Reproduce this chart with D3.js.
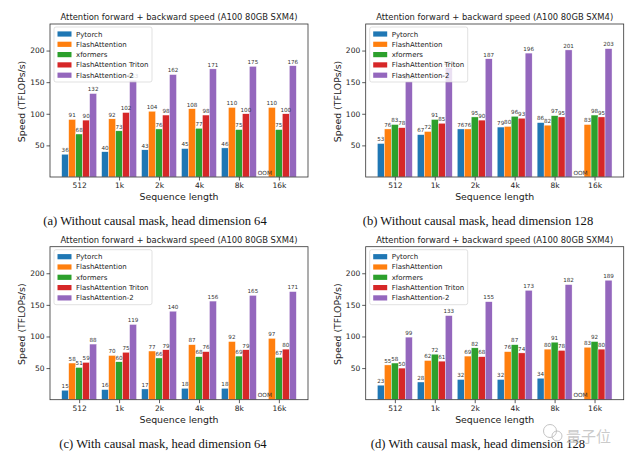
<!DOCTYPE html>
<html><head><meta charset="utf-8">
<script src="https://cdn.jsdelivr.net/npm/d3@7"></script>
<style>
html,body{margin:0;padding:0;background:#fff;}
svg{display:block;}
</style></head>
<body>
<script>
// ---------- data ----------
const seqLabels = ['512', '1k', '2k', '4k', '8k', '16k'];
const methods = ['Pytorch', 'FlashAttention', 'xformers', 'FlashAttention Triton', 'FlashAttention-2'];
const colors = ['#1f77b4', '#ff7f0e', '#2ca02c', '#d62728', '#9467bd'];
const yTicks = [50, 100, 150, 200];
const chartTitle = 'Attention forward + backward speed (A100 80GB SXM4)';
const xAxisLabel = 'Sequence length';
const yAxisLabel = 'Speed (TFLOPs/s)';

// (a) without causal mask, head dim 64
const pytorchA  = [36, 40, 43, 45, 46, null];
const flashA    = [91, 92, 104, 108, 110, 110];
const xformersA = [68, 73, 76, 77, 75, 75];
const tritonA   = [90, 102, 98, 98, 100, 100];
const fa2A      = [132, 153, 162, 171, 175, 176];
// (b) without causal mask, head dim 128
const pytorchB  = [53, 67, 76, 79, 86, null];
const flashB    = [76, 72, 76, 80, 82, 83];
const xformersB = [83, 91, 95, 96, 97, 98];
const tritonB   = [78, 85, 90, 93, 95, 95];
const fa2B      = [151, 173, 187, 196, 201, 203];
// (c) with causal mask, head dim 64
const pytorchC  = [15, 16, 17, 18, 18, null];
const flashC    = [58, 70, 77, 87, 92, 97];
const xformersC = [51, 60, 66, 68, 69, 67];
const tritonC   = [59, 75, 79, 76, 79, 80];
const fa2C      = [88, 119, 140, 156, 165, 171];
// (d) with causal mask, head dim 128
const pytorchD  = [23, 28, 32, 32, 34, null];
const flashD    = [55, 62, 69, 76, 80, 83];
const xformersD = [58, 72, 82, 87, 91, 92];
const tritonD   = [50, 61, 68, 74, 78, 80];
const fa2D      = [99, 133, 155, 173, 182, 189];

const captions = [
  '(a) Without causal mask, head dimension 64',
  '(b) Without causal mask, head dimension 128',
  '(c) With causal mask, head dimension 64',
  '(d) With causal mask, head dimension 128'
];
const panelsData = [
  [pytorchA, flashA, xformersA, tritonA, fa2A],
  [pytorchB, flashB, xformersB, tritonB, fa2B],
  [pytorchC, flashC, xformersC, tritonC, fa2C],
  [pytorchD, flashD, xformersD, tritonD, fa2D]
];
const oomLabel = 'OOM';
const watermark = '量子位';

// ---------- layout ----------
const W = 634, H = 453;
const svg = d3.select('body').append('svg').attr('width', W).attr('height', H);
const SANS = 'DejaVu Sans';
const SERIF = 'Liberation Serif';

const panelPos = [
  {ax: 50,    ay: 24,    capX: 155},
  {ax: 365.7, ay: 24,    capX: 478},
  {ax: 50,    ay: 246.7, capX: 163},
  {ax: 365.7, ay: 246.7, capX: 478}
];
const AW = 258, AH = 153;
const barW = 0.175;

panelsData.forEach((series, pi) => {
  const p = panelPos[pi];
  const g = svg.append('g').attr('transform', `translate(${p.ax},${p.ay})`);
  const x = d3.scaleLinear().domain([-0.73, 5.73]).range([0, AW]);
  const y = d3.scaleLinear().domain([0, 242]).range([AH, 0]);

  const barLayer = g.append('g');
  const labelLayer = g.append('g');

  series.forEach((vals, si) => {
    const off = (si - 2) * barW;
    vals.forEach((v, ci) => {
      const cx = ci + off;
      if (v == null) {
        labelLayer.append('text').attr('x', x(cx)).attr('y', y(0) - 2.5)
          .attr('text-anchor', 'middle').attr('font-family', SANS).attr('font-size', 5.8)
          .attr('fill', '#333').text(oomLabel);
        return;
      }
      barLayer.append('rect')
        .attr('x', x(cx - barW / 2)).attr('width', x(barW) - x(0))
        .attr('y', y(v)).attr('height', y(0) - y(v))
        .attr('fill', colors[si]).attr('stroke', '#fff').attr('stroke-width', 0.4);
      labelLayer.append('text').attr('x', x(cx)).attr('y', y(v) - 2.2)
        .attr('text-anchor', 'middle').attr('font-family', SANS).attr('font-size', 5.6)
        .attr('fill', '#333').text(v);
    });
  });

  // axes
  const yAxis = d3.axisLeft(y).tickValues(yTicks).tickSize(3.5).tickPadding(2);
  const gy = g.append('g').call(yAxis);
  const xAxis = d3.axisBottom(x).tickValues(d3.range(seqLabels.length))
    .tickFormat(i => seqLabels[i]).tickSize(3.5).tickPadding(2);
  const gx = g.append('g').attr('transform', `translate(0,${AH})`).call(xAxis);
  [gx, gy].forEach(a => {
    a.select('.domain').remove();
    a.selectAll('line').attr('stroke', '#333').attr('stroke-width', 0.8);
    a.selectAll('text').attr('font-family', SANS).attr('font-size', 7.5).attr('fill', '#222');
  });
  // frame
  g.append('rect').attr('x', 0).attr('y', 0).attr('width', AW).attr('height', AH)
    .attr('fill', 'none').attr('stroke', '#333').attr('stroke-width', 0.8);

  // title
  g.append('text').attr('x', AW / 2).attr('y', -4).attr('text-anchor', 'middle')
    .attr('font-family', SANS).attr('font-size', 8.4).attr('fill', '#222').text(chartTitle);
  // x label
  g.append('text').attr('x', AW / 2).attr('y', AH + 23).attr('text-anchor', 'middle')
    .attr('font-family', SANS).attr('font-size', 9.4).attr('fill', '#222').text(xAxisLabel);
  // y label
  g.append('text').attr('transform', `translate(-25,${AH / 2 + 1}) rotate(-90)`)
    .attr('text-anchor', 'middle').attr('font-family', SANS).attr('font-size', 9.4)
    .attr('fill', '#222').text(yAxisLabel);

  // legend
  const lg = g.append('g').attr('transform', 'translate(4,3)');
  lg.append('rect').attr('x', 0).attr('y', 0).attr('width', 98).attr('height', 55)
    .attr('rx', 2).attr('fill', '#fff').attr('fill-opacity', 0.8)
    .attr('stroke', '#ccc').attr('stroke-width', 0.6);
  methods.forEach((m, i) => {
    const yy = 7 + i * 10.3;
    lg.append('rect').attr('x', 3.5).attr('y', yy - 2.6).attr('width', 14).attr('height', 5.2)
      .attr('fill', colors[i]);
    lg.append('text').attr('x', 22).attr('y', yy + 2.5).attr('font-family', SANS)
      .attr('font-size', 7).attr('fill', '#222').text(m);
  });

  // caption
  svg.append('text').attr('x', p.capX).attr('y', p.ay + 201).attr('text-anchor', 'middle')
    .attr('font-family', SERIF).attr('font-size', 12.6).attr('fill', '#111').text(captions[pi]);
});

// watermark
const wm = svg.append('g').attr('fill', 'none').attr('stroke', '#bdbdbd').attr('stroke-width', 0.9);
wm.append('circle').attr('cx', 550).attr('cy', 431).attr('r', 6.5);
wm.append('circle').attr('cx', 557).attr('cy', 436).attr('r', 5);
svg.append('text').attr('x', 566).attr('y', 442).attr('font-family', 'Noto Sans CJK SC')
  .attr('font-size', 15).attr('fill', '#c4c4c4').attr('fill-opacity', 0.9).text(watermark);
</script>
</body></html>
